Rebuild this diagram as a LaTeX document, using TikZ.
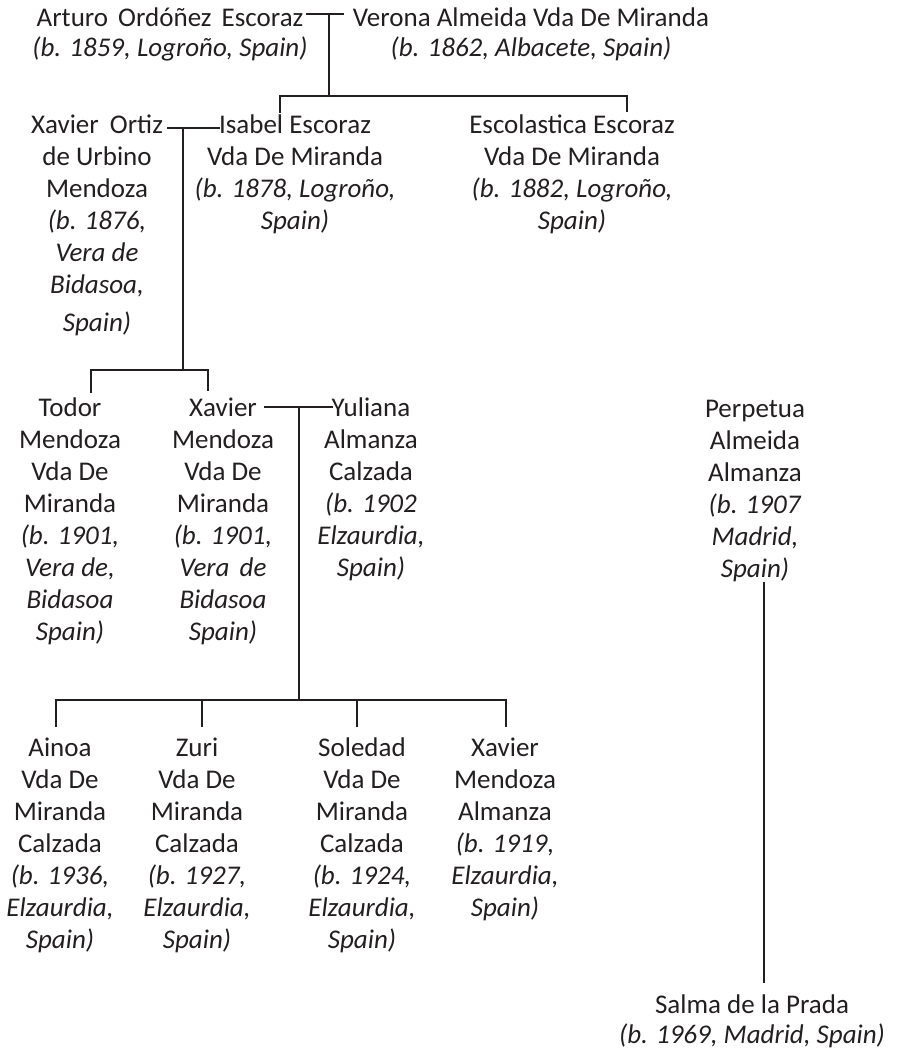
\documentclass[tikz,border=0pt]{standalone}
\usepackage{fontspec}
\setmainfont{Carlito}
\definecolor{ink}{HTML}{231F20}
\begin{document}
\begin{tikzpicture}[x=1pt,y=-1pt,
  person/.style={align=center, inner sep=0pt, anchor=north, text=ink,
                 font=\fontsize{27}{32}\selectfont},
  wide/.style={person, font=\fontsize{27}{30}\selectfont},
  link/.style={draw=ink, line width=1.1pt}]
\useasboundingbox (0,0) rectangle (898,1050);

% generation 1
\node[wide] (arturo) at (170,5) {\strut Arturo\hspace{4pt} Ordóñez\hspace{4pt} Escoraz\\ \textit{(b. 1859, Logroño, Spain)}};
\node[wide] (verona) at (531,5) {\strut Verona Almeida Vda De Miranda\\ \textit{(b. 1862, Albacete, Spain)}};

% generation 2
\node[person] (xortiz) at (97,111) {\strut Xavier\hspace{5pt} Ortiz\\ de Urbino\\ Mendoza\\ \textit{(b. 1876,}\\ \textit{Vera de}\\ \textit{Bidasoa,}\\[6pt] \textit{Spain)}};
\node[person] (isabel) at (295,111) {\strut Isabel Escoraz\\ Vda De Miranda\\ \textit{(b. 1878, Logroño,}\\ \textit{Spain)}};
\node[person] (escol) at (572,111) {\strut Escolastica Escoraz\\ Vda De Miranda\\ \textit{(b. 1882, Logroño,}\\ \textit{Spain)}};

% generation 3
\node[person] (todor) at (70,394) {\strut Todor\\ Mendoza\\ Vda De\\ Miranda\\ \textit{(b. 1901,}\\ \textit{Vera de,}\\ \textit{Bidasoa}\\ \textit{Spain)}};
\node[person] (xmendoza) at (223,394) {\strut Xavier\\ Mendoza\\ Vda De\\ Miranda\\ \textit{(b. 1901,}\\ \textit{Vera\hspace{4pt} de}\\ \textit{Bidasoa}\\ \textit{Spain)}};
\node[person] (yuliana) at (371,394) {\strut Yuliana\\ Almanza\\ Calzada\\ \textit{(b. 1902}\\ \textit{Elzaurdia,}\\ \textit{Spain)}};
\node[person] (perpetua) at (755,395) {\strut Perpetua\\ Almeida\\ Almanza\\ \textit{(b. 1907}\\ \textit{Madrid,}\\ \textit{Spain)}};

% generation 4
\node[person] (ainoa) at (60,734) {\strut Ainoa\\ Vda De\\ Miranda\\ Calzada\\ \textit{(b. 1936,}\\ \textit{Elzaurdia,}\\ \textit{Spain)}};
\node[person] (zuri) at (197,734) {\strut Zuri\\ Vda De\\ Miranda\\ Calzada\\ \textit{(b. 1927,}\\ \textit{Elzaurdia,}\\ \textit{Spain)}};
\node[person] (soledad) at (362,734) {\strut Soledad\\ Vda De\\ Miranda\\ Calzada\\ \textit{(b. 1924,}\\ \textit{Elzaurdia,}\\ \textit{Spain)}};
\node[person] (xalmanza) at (505,734) {\strut Xavier\\ Mendoza\\ Almanza\\ \textit{(b. 1919,}\\ \textit{Elzaurdia,}\\ \textit{Spain)}};

% generation 5
\node[wide] (salma) at (752,992) {\strut Salma de la Prada\\ \textit{(b. 1969, Madrid, Spain)}};

% junction coordinates
\coordinate (u1l) at (306,14);  \coordinate (u1r) at (344,14);
\coordinate (u1)  at (329,14);  \coordinate (k1)  at (329,96);
\coordinate (k1l) at (280,96);  \coordinate (k1r) at (627,96);
\coordinate (d1l) at (280,113); \coordinate (d1r) at (627,112);

\coordinate (u2l) at (167,128); \coordinate (u2r) at (220,128);
\coordinate (u2)  at (183,128); \coordinate (k2)  at (183,370);
\coordinate (k2l) at (91,370);  \coordinate (k2r) at (208,370);
\coordinate (d2l) at (91,393);  \coordinate (d2r) at (208,391);

\coordinate (u3l) at (264,407); \coordinate (u3r) at (333,407);
\coordinate (u3)  at (299,407); \coordinate (k3)  at (299,700);
\coordinate (k3a) at (56,700);  \coordinate (k3b) at (202,700);
\coordinate (k3c) at (357,700); \coordinate (k3d) at (506,700);
\coordinate (d3a) at (56,727);  \coordinate (d3b) at (202,727);
\coordinate (d3c) at (357,727); \coordinate (d3d) at (506,727);

\coordinate (p1) at (764,582);  \coordinate (p2) at (764,983);

% connectors
\draw[link] (u1l) -- (u1r);
\draw[link] (u1) -- (k1);
\draw[link] (d1l) -- (k1l) -- (k1r) -- (d1r);

\draw[link] (u2l) -- (u2r);
\draw[link] (u2) -- (k2);
\draw[link] (d2l) -- (k2l) -- (k2r) -- (d2r);

\draw[link] (u3l) -- (u3r);
\draw[link] (u3) -- (k3);
\draw[link] (d3a) -- (k3a) -- (k3d) -- (d3d);
\draw[link] (k3b) -- (d3b);
\draw[link] (k3c) -- (d3c);

\draw[link] (p1) -- (p2);
\end{tikzpicture}
\end{document}
